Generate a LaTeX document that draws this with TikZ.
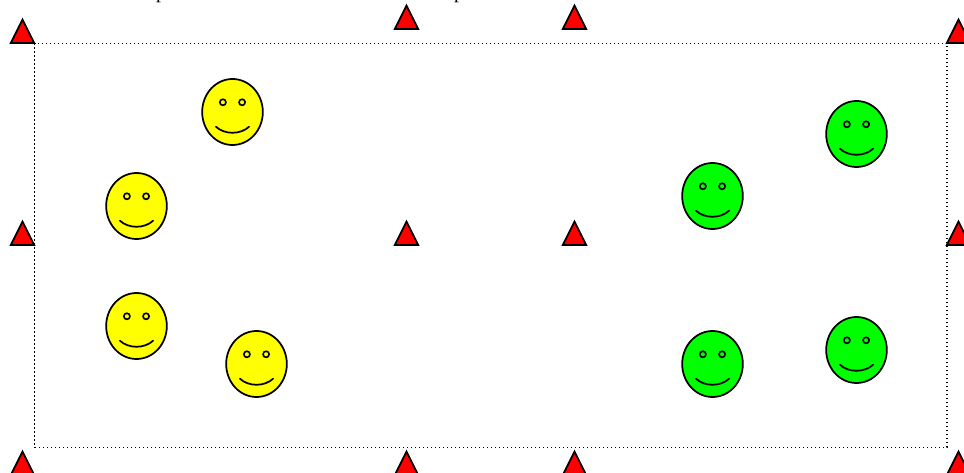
\documentclass[tikz,border=0pt]{standalone}
\usepackage{fontspec}
\setmainfont{Liberation Serif}
\usetikzlibrary{shapes.geometric}
\definecolor{faceyellow}{RGB}{255,255,0}
\definecolor{facegreen}{RGB}{0,255,0}
\definecolor{markerred}{RGB}{255,0,0}

\begin{document}
\begin{tikzpicture}[x=0.75pt,y=-0.75pt,
  marker/.style={draw,fill=markerred,line width=1.3pt,line join=miter,isosceles triangle,isosceles triangle apex angle=53,
    isosceles triangle stretches,shape border rotate=90,minimum width=17.5pt,minimum height=17.5pt,inner sep=0pt,outer sep=0pt,anchor=lower side},
  head/.style={draw,ellipse,line width=1.3pt,minimum width=45.5pt,minimum height=49.5pt,inner sep=0pt},
  eye/.style={draw,circle,line width=1.2pt,minimum size=4.6pt,inner sep=0pt},
  cutoff/.style={font=\fontsize{15pt}{17pt}\selectfont,anchor=base,inner sep=0pt},
  pics/smiley/.style={code={
    \node[head,fill=#1] (-head) at (0,0) {};
    \node[eye] (-eyeL) at (-9.6,-9.7) {};
    \node[eye] (-eyeR) at (9.6,-9.7) {};
    \draw[line width=1.3pt,line cap=round] (-16.6,14.7) .. controls (-8,22.8) and (8,22.8) .. (16.6,14.7);
  }}]
  \useasboundingbox (0,0) rectangle (964,473);
  % text cut off at the top edge
  \node[cutoff] (t1) at (161,-1) {p};
  \node[cutoff] (t2) at (459,-1) {p};
  % field
  \draw[line width=0.9pt,dash pattern=on 1.2pt off 1.8pt] (34.8,43.2) rectangle (947,447.2);
  % markers
  \node[marker] (m1) at (22.5,43) {};
  \node[marker] (m2) at (406.5,29) {};
  \node[marker] (m3) at (574.5,29) {};
  \node[marker] (m4) at (958.5,43) {};
  \node[marker] (m5) at (22.5,245) {};
  \node[marker] (m6) at (406.5,245) {};
  \node[marker] (m7) at (574.5,245) {};
  \node[marker] (m8) at (958.5,245) {};
  \node[marker] (m9) at (22.5,475) {};
  \node[marker] (m10) at (406.5,475) {};
  \node[marker] (m11) at (574.5,475) {};
  \node[marker] (m12) at (958.5,475) {};
  % left team
  \pic (y1) at (232.5,112) {smiley=faceyellow};
  \pic (y2) at (136.5,206) {smiley=faceyellow};
  \pic (y3) at (136.5,326) {smiley=faceyellow};
  \pic (y4) at (256.5,364) {smiley=faceyellow};
  % right team
  \pic (g1) at (856.5,134) {smiley=facegreen};
  \pic (g2) at (712.5,196) {smiley=facegreen};
  \pic (g3) at (712.5,364) {smiley=facegreen};
  \pic (g4) at (856.5,350) {smiley=facegreen};
\end{tikzpicture}
\end{document}
